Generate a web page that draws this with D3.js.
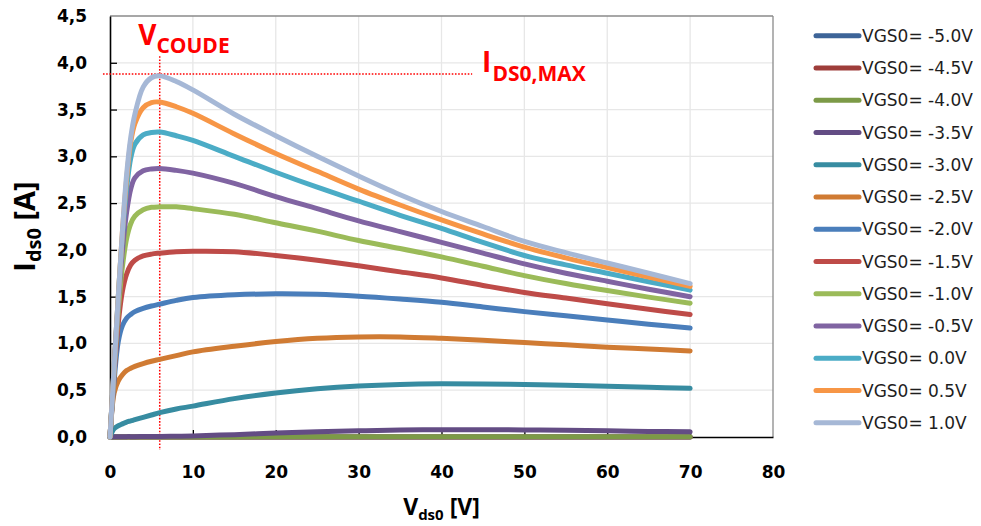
<!DOCTYPE html>
<html>
<head>
<meta charset="utf-8">
<script src="https://cdn.jsdelivr.net/npm/d3@7"></script>
<style>
  html, body { margin: 0; padding: 0; background: #fff; }
  svg { display: block; }
</style>
</head>
<body>
<svg id="chart" width="981" height="526"></svg>
<script>
// ---------------- DATA ----------------
const vds = [0, 0.5, 1, 1.5, 2, 2.5, 3, 4, 5, 6, 8, 10, 15, 20, 25, 30, 35, 40, 45, 50, 55, 60, 65, 70];

const seriesNames = ["VGS0= -5.0V","VGS0= -4.5V","VGS0= -4.0V","VGS0= -3.5V","VGS0= -3.0V","VGS0= -2.5V",
  "VGS0= -2.0V","VGS0= -1.5V","VGS0= -1.0V","VGS0= -0.5V","VGS0= 0.0V","VGS0= 0.5V","VGS0= 1.0V"];

const idsM50 = [0,0,0,0,0,0,0,0,0,0,0,0,0,0,0,0,0,0,0,0,0,0,0,0];
const idsM45 = [0,0,0,0,0,0,0,0,0,0,0,0,0,0,0,0,0,0,0,0,0,0,0,0];
const idsM40 = [0,0,0,0,0,0,0,0,0,0,0,0,0.001,0.002,0.002,0.003,0.003,0.003,0.003,0.003,0.003,0.003,0.003,0.003];
const idsM35 = [0,0.002,0.003,0.003,0.004,0.004,0.004,0.005,0.005,0.006,0.008,0.012,0.025,0.042,0.055,0.066,0.074,0.078,0.078,0.076,0.072,0.066,0.06,0.055];
const idsM30 = [0,0.09,0.12,0.14,0.16,0.172,0.185,0.21,0.235,0.26,0.30,0.33,0.41,0.47,0.515,0.545,0.562,0.568,0.567,0.56,0.552,0.543,0.532,0.52];
const idsM25 = [0,0.47,0.6,0.665,0.71,0.735,0.755,0.785,0.81,0.83,0.87,0.91,0.97,1.02,1.055,1.07,1.07,1.055,1.035,1.01,0.985,0.96,0.94,0.92];
const idsM20 = [0,0.6,1.02,1.19,1.27,1.31,1.34,1.375,1.40,1.42,1.46,1.49,1.52,1.53,1.525,1.505,1.475,1.44,1.39,1.34,1.295,1.25,1.205,1.165];
const idsM15 = [0,0.68,1.22,1.56,1.74,1.84,1.89,1.935,1.955,1.965,1.98,1.985,1.98,1.94,1.89,1.83,1.765,1.70,1.62,1.545,1.485,1.425,1.365,1.31];
const idsM10 = [0,0.72,1.35,1.82,2.12,2.28,2.36,2.43,2.455,2.46,2.46,2.44,2.38,2.29,2.2,2.10,2.015,1.925,1.825,1.725,1.64,1.565,1.495,1.43];
const idsM05 = [0,0.75,1.45,2.0,2.4,2.65,2.77,2.845,2.865,2.87,2.85,2.82,2.71,2.57,2.44,2.31,2.195,2.08,1.965,1.85,1.75,1.665,1.58,1.50];
const idsP00 = [0,0.75,1.5,2.15,2.65,2.98,3.13,3.23,3.255,3.26,3.22,3.17,3.0,2.83,2.67,2.52,2.37,2.23,2.08,1.94,1.84,1.75,1.66,1.57];
const idsP05 = [0,0.75,1.5,2.2,2.75,3.15,3.35,3.52,3.575,3.58,3.53,3.46,3.24,3.03,2.84,2.65,2.48,2.32,2.17,2.03,1.915,1.81,1.71,1.61];
const idsP10 = [0,0.75,1.5,2.2,2.8,3.2,3.45,3.74,3.84,3.86,3.80,3.71,3.45,3.22,3.0,2.79,2.59,2.41,2.25,2.09,1.97,1.86,1.75,1.64];

const seriesValues = [idsM50, idsM45, idsM40, idsM35, idsM30, idsM25, idsM20, idsM15, idsM10, idsM05, idsP00, idsP05, idsP10];
const seriesColors = ["#3D6498","#9E3D3A","#7C9A47","#634C84","#378CA1","#D07B33",
  "#4A7EBB","#BE4B48","#9BBB59","#8064A2","#4BACC6","#F79646","#A6B8D6"];

const xTicks = [0, 10, 20, 30, 40, 50, 60, 70, 80];
const yTicks = [0, 0.5, 1, 1.5, 2, 2.5, 3, 3.5, 4, 4.5];

// annotation values
const vCoude = 6;
const idsMax = 3.88;
const vLineSpan = [-0.14, 4.07];   // in A
const hLineSpan = [-0.85, 43.7];   // in V

// ---------------- LAYOUT ----------------
const svg = d3.select("#chart");
const W = 981, H = 526;
const plot = { left: 110, right: 773, top: 16, bottom: 437 };

const x = d3.scaleLinear().domain([0, 80]).range([plot.left, plot.right]);
const y = d3.scaleLinear().domain([0, 4.5]).range([plot.bottom, plot.top]);

svg.append("rect").attr("width", W).attr("height", H).attr("fill", "#fff");

const tickFont = "'DejaVu Sans', sans-serif";
const titleFont = "'Open Sans', sans-serif";

// gridlines
svg.append("g").selectAll("line").data(xTicks.filter(d => d > 0 && d < 80)).join("line")
  .attr("x1", d => x(d)).attr("x2", d => x(d))
  .attr("y1", plot.top).attr("y2", plot.bottom)
  .attr("stroke", "#e7e7e7").attr("stroke-width", 1.3);
svg.append("g").selectAll("line").data(yTicks.filter(d => d > 0 && d < 4.5)).join("line")
  .attr("x1", plot.left).attr("x2", plot.right)
  .attr("y1", d => y(d)).attr("y2", d => y(d))
  .attr("stroke", "#e7e7e7").attr("stroke-width", 1.3);

// frame top / right
svg.append("line").attr("x1", plot.left).attr("x2", plot.right).attr("y1", plot.top).attr("y2", plot.top)
  .attr("stroke", "#8a8a8a").attr("stroke-width", 1.3);
svg.append("line").attr("x1", plot.right).attr("x2", plot.right).attr("y1", plot.top).attr("y2", plot.bottom)
  .attr("stroke", "#8a8a8a").attr("stroke-width", 1.3);

// axes
const fmt = d => d3.format(".1f")(d).replace(".", ",");
const yAxis = svg.append("g").attr("transform", `translate(${plot.left},0)`)
  .call(d3.axisLeft(y).tickValues(yTicks).tickFormat(fmt).tickSize(-7).tickSizeOuter(0).tickPadding(23));
const xAxis = svg.append("g").attr("transform", `translate(0,${plot.bottom})`)
  .call(d3.axisBottom(x).tickValues(xTicks).tickFormat(d3.format("d")).tickSize(-7).tickSizeOuter(0).tickPadding(29));
[yAxis, xAxis].forEach(g => {
  g.select(".domain").attr("stroke", "#000").attr("stroke-width", 1.6);
  g.selectAll(".tick line").attr("stroke", "#000").attr("stroke-width", 1.3);
  g.selectAll(".tick text").attr("font-family", tickFont).attr("font-weight", "bold")
    .attr("font-size", 17).attr("fill", "#000");
});
yAxis.selectAll(".tick").filter(d => d === 4.5).select("line").remove();
xAxis.selectAll(".tick").filter(d => d === 80).select("line").remove();

// red dotted annotation lines
svg.append("line")
  .attr("x1", x(vCoude)).attr("x2", x(vCoude))
  .attr("y1", y(vLineSpan[1])).attr("y2", y(vLineSpan[0]))
  .attr("stroke", "#ff0000").attr("stroke-width", 1.5).attr("stroke-dasharray", "1.6,1.6");
svg.append("line")
  .attr("x1", x(hLineSpan[0])).attr("x2", x(hLineSpan[1]))
  .attr("y1", y(idsMax)).attr("y2", y(idsMax))
  .attr("stroke", "#ff0000").attr("stroke-width", 1.5).attr("stroke-dasharray", "1.6,1.6");

// curves
const line = d3.line().x(d => x(d[0])).y(d => y(d[1])).curve(d3.curveCatmullRom.alpha(0.5));
svg.append("g").selectAll("path").data(seriesValues).join("path")
  .attr("d", vals => line(vds.map((v, i) => [v, vals[i]])))
  .attr("fill", "none")
  .attr("stroke", (d, i) => seriesColors[i])
  .attr("stroke-width", 5)
  .attr("stroke-linecap", "round")
  .attr("stroke-linejoin", "round");

// annotations text
const vt = svg.append("text").attr("x", x(3.4)).attr("y", 45)
  .attr("font-family", titleFont).attr("font-weight", "bold").attr("fill", "#ff0000");
vt.append("tspan").attr("font-size", 28).text("V");
vt.append("tspan").attr("font-size", 21).attr("dy", 8).text("COUDE");

const it = svg.append("text").attr("x", x(44.9)).attr("y", 72)
  .attr("font-family", titleFont).attr("font-weight", "bold").attr("fill", "#ff0000");
it.append("tspan").attr("font-size", 28).text("I");
it.append("tspan").attr("font-size", 21).attr("dx", 1).attr("dy", 9).text("DS0,MAX");

// axis titles
const xt = svg.append("text").attr("x", (plot.left + plot.right) / 2).attr("y", 515)
  .attr("text-anchor", "middle")
  .attr("font-family", titleFont).attr("font-weight", "bold").attr("fill", "#000");
xt.append("tspan").attr("font-size", 23).text("V");
xt.append("tspan").attr("font-size", 15).attr("dy", 5).text("ds0");
xt.append("tspan").attr("font-size", 23).attr("dy", -5).text(" [V]");

const yt = svg.append("text").attr("transform", `translate(35,${(plot.top + plot.bottom) / 2}) rotate(-90)`)
  .attr("text-anchor", "middle")
  .attr("font-family", titleFont).attr("font-weight", "bold").attr("fill", "#000");
yt.append("tspan").attr("font-size", 29).text("I");
yt.append("tspan").attr("font-size", 20).attr("dy", 6).text("ds0");
yt.append("tspan").attr("font-size", 29).attr("dy", -6).text(" [A]");

// legend
const legendTop = 35.7, legendStep = 32.25;
const lg = svg.append("g");
seriesNames.forEach((name, i) => {
  const yy = legendTop + i * legendStep;
  lg.append("line").attr("x1", 816).attr("x2", 859).attr("y1", yy).attr("y2", yy)
    .attr("stroke", seriesColors[i]).attr("stroke-width", 5).attr("stroke-linecap", "round");
  lg.append("text").attr("x", 862).attr("y", yy).attr("dy", "0.36em")
    .attr("font-family", tickFont).attr("font-size", 17).attr("fill", "#1e1e1e").text(name);
});
</script>
</body>
</html>
